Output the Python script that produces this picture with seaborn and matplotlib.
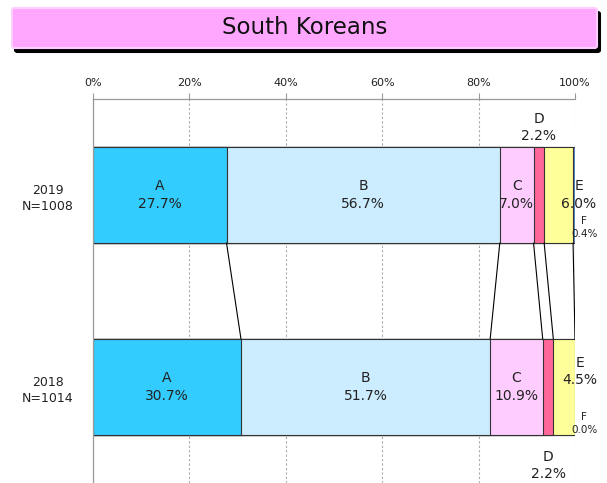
import matplotlib
matplotlib.use("Agg")
import matplotlib.pyplot as plt
import seaborn as sns
import pandas as pd
import numpy as np
from matplotlib.patches import FancyBboxPatch

years = ["2019\nN=1008", "2018\nN=1014"]
segments = ["A", "B", "C", "D", "E", "F"]
vals_2019 = [27.7, 56.7, 7.0, 2.2, 6.0, 0.4]
vals_2018 = [30.7, 51.7, 10.9, 2.2, 4.5, 0.0]
colors = ["#33CCFF", "#CCECFF", "#FFCCFF", "#FF6699", "#FFFF99", "#5B8FD0"]
xticks = [0, 20, 40, 60, 80, 100]
xtick_labels = ["0%", "20%", "40%", "60%", "80%", "100%"]
title = "South Koreans"

sns.set_theme(style="white")
plt.rcParams["font.family"] = ["DejaVu Sans"]

fig = plt.figure(figsize=(6.07, 4.83), dpi=100)
ax = fig.add_axes([93/607, 0.0, (575-93)/607, 1 - 99/483])

cum19 = np.cumsum(vals_2019)
cum18 = np.cumsum(vals_2018)

# draw cumulative bars from the largest down so each segment shows
for i in reversed(range(len(segments))):
    df = pd.DataFrame({"year": years, "cum": [cum19[i], cum18[i]]})
    sns.barplot(data=df, x="cum", y="year", orient="h", order=years,
                color=colors[i], saturation=1, width=0.5,
                edgecolor="#333333", linewidth=0.8, ax=ax, zorder=2)

# connector lines
for i in range(len(segments)):
    ax.plot([cum19[i], cum18[i]], [0.25, 0.75], color="black", lw=0.8, zorder=3)

ax.set_xlim(0, 100)
ax.set_ylim(1.5, -0.5)
ax.set_xlabel("")
ax.set_ylabel("")

# labels inside
tc = "#222222"
for vals, cum, yp in [(vals_2019, cum19, 0), (vals_2018, cum18, 1)]:
    for i in range(3):
        mid = cum[i] - vals[i] / 2
        ax.text(mid, yp, f"{segments[i]}\n{vals[i]:.1f}%", ha="center", va="center",
                fontsize=10, color=tc, linespacing=1.3, zorder=4)

# 2019 outside labels
ax.text(cum19[3] - vals_2019[3] / 2, -0.27, f"D\n{vals_2019[3]:.1f}%", ha="center", va="bottom",
        fontsize=10, color=tc, linespacing=1.3)
ax.text(100.8, 0.0, f"E\n{vals_2019[4]:.1f}%", ha="center", va="center",
        fontsize=10, color=tc, linespacing=1.3, clip_on=False, zorder=4)
ax.text(101.9, 0.17, f"F\n{vals_2019[5]:.1f}%", ha="center", va="center",
        fontsize=7.5, color=tc, linespacing=1.4, clip_on=False, zorder=4)
# 2018 outside labels
ax.text(101.0, 0.92, f"E\n{vals_2018[4]:.1f}%", ha="center", va="center",
        fontsize=10, color=tc, linespacing=1.3, clip_on=False, zorder=4)
ax.text(101.9, 1.19, f"F\n{vals_2018[5]:.1f}%", ha="center", va="center",
        fontsize=7.5, color=tc, linespacing=1.4, clip_on=False, zorder=4)
ax.text(cum18[3] - vals_2018[3] / 2, 1.41, f"D\n{vals_2018[3]:.1f}%", ha="center", va="center",
        fontsize=10, color=tc, linespacing=1.3)

# axes styling
ax.xaxis.tick_top()
ax.set_xticks(xticks)
ax.set_xticklabels(xtick_labels, fontsize=8, color=tc)
ax.tick_params(axis="x", direction="out", length=4, width=0.8, color="#999999", pad=4, top=True, bottom=False)
ax.tick_params(axis="y", length=0, pad=14)
for lab in ax.get_yticklabels():
    lab.set_fontsize(9)
    lab.set_color(tc)
    lab.set_multialignment("center")
    lab.set_linespacing(1.4)
ax.set_axisbelow(True)
ax.xaxis.grid(True, linestyle=(0, (2, 2)), color="#aaaaaa", lw=0.8)
ax.yaxis.grid(False)
for s in ["bottom", "right"]:
    ax.spines[s].set_visible(False)
for s in ["top", "left"]:
    ax.spines[s].set_color("#999999")
    ax.spines[s].set_linewidth(0.9)

# title box with shadow
x0, x1 = 12/607, 597/607
y0, y1 = 1 - 48/483, 1 - 8/483
shadow = FancyBboxPatch((x0 + 3/607, y0 - 4/483), x1 - x0, y1 - y0,
                        boxstyle="round,pad=0,rounding_size=0.004", transform=fig.transFigure,
                        facecolor="black", edgecolor="black", lw=1.5, zorder=0)
box = FancyBboxPatch((x0, y0), x1 - x0, y1 - y0,
                     boxstyle="round,pad=0,rounding_size=0.004", transform=fig.transFigure,
                     facecolor="#FFA6FF", edgecolor="#FFD0FF", lw=1.5, zorder=1)
fig.patches.extend([shadow, box])
fig.text((x0 + x1) / 2, (y0 + y1) / 2, title, ha="center", va="center",
         fontsize=16.5, color="#111111", zorder=2)

fig.savefig("out.png", dpi=100)
